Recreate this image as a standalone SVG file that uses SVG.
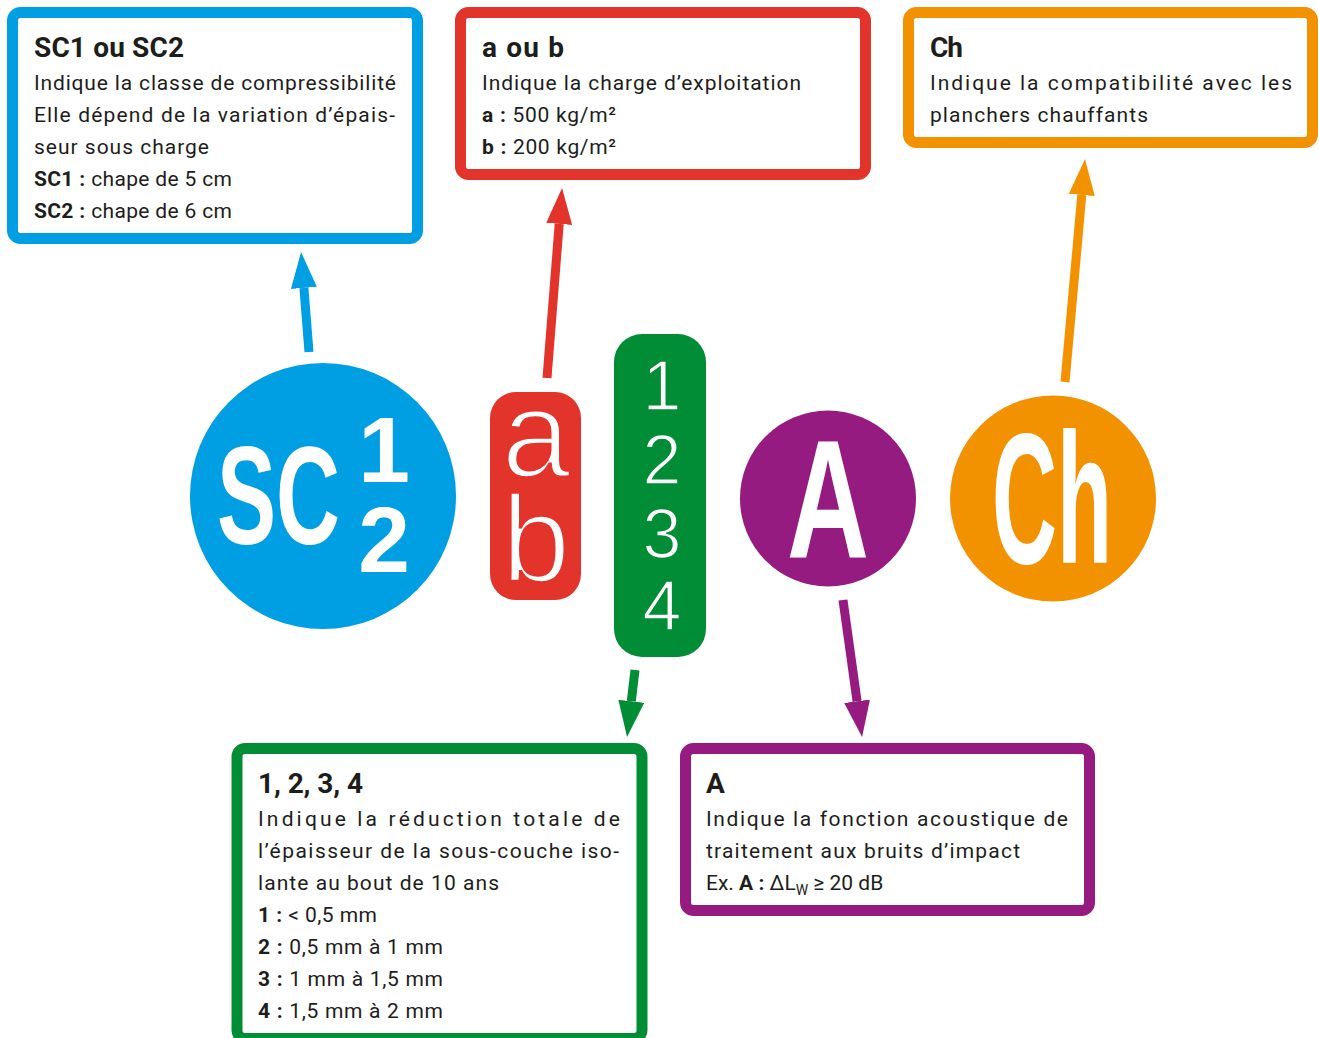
<svg xmlns="http://www.w3.org/2000/svg" width="1319" height="1038" viewBox="0 0 1319 1038">
<style>
.box{fill:#fff;stroke-width:11}
.t{font-family:Roboto,"Liberation Sans",sans-serif;fill:#1d1d1b;font-size:21px}
.h{font-family:Roboto,"Liberation Sans",sans-serif;fill:#1d1d1b;font-size:28px;font-weight:bold}
.b{font-weight:bold}
.big{font-family:"Liberation Sans",Arial,sans-serif;fill:#fff}
.c{stroke-width:9;fill:none}
</style>
<defs>
<marker id="mb" markerUnits="userSpaceOnUse" markerWidth="36" markerHeight="26" viewBox="0 0 36 26" refX="0" refY="13" orient="auto"><path d="M0,0L36,13L0,26z" fill="#009fe3"/></marker>
<marker id="mr" markerUnits="userSpaceOnUse" markerWidth="36" markerHeight="26" viewBox="0 0 36 26" refX="0" refY="13" orient="auto"><path d="M0,0L36,13L0,26z" fill="#e3342c"/></marker>
<marker id="mg" markerUnits="userSpaceOnUse" markerWidth="36" markerHeight="26" viewBox="0 0 36 26" refX="0" refY="13" orient="auto"><path d="M0,0L36,13L0,26z" fill="#008d36"/></marker>
<marker id="mp" markerUnits="userSpaceOnUse" markerWidth="36" markerHeight="26" viewBox="0 0 36 26" refX="0" refY="13" orient="auto"><path d="M0,0L36,13L0,26z" fill="#951b81"/></marker>
<marker id="mo" markerUnits="userSpaceOnUse" markerWidth="36" markerHeight="26" viewBox="0 0 36 26" refX="0" refY="13" orient="auto"><path d="M0,0L36,13L0,26z" fill="#f39200"/></marker>
</defs>

<g id="connectors">
<line class="c" x1="309" y1="352" x2="303.9" y2="287.9" stroke="#009fe3" marker-end="url(#mb)"/>
<line class="c" x1="547" y1="378" x2="559.2" y2="223.9" stroke="#e3342c" marker-end="url(#mr)"/>
<line class="c" x1="635" y1="670" x2="631.3" y2="701.3" stroke="#008d36" marker-end="url(#mg)"/>
<line class="c" x1="843" y1="600" x2="857.1" y2="701.3" stroke="#951b81" marker-end="url(#mp)"/>
<line class="c" x1="1065" y1="382" x2="1081.8" y2="194.9" stroke="#f39200" marker-end="url(#mo)"/>
</g>

<g id="box-sc">
<rect class="box" x="12.5" y="12.5" width="405" height="226" rx="8" stroke="#009fe3"/>
<text class="h" x="34" y="57" textLength="150">SC1 ou SC2</text>
<text class="t" x="34" y="90" textLength="362">Indique la classe de compressibilité</text>
<text class="t" x="34" y="122" textLength="361">Elle dépend de la variation d’épais-</text>
<text class="t" x="34" y="154" textLength="175">seur sous charge</text>
<text class="t" x="34" y="186" textLength="198"><tspan class="b">SC1 :</tspan> chape de 5 cm</text>
<text class="t" x="34" y="218" textLength="198"><tspan class="b">SC2 :</tspan> chape de 6 cm</text>
</g>

<g id="box-ab">
<rect class="box" x="460.5" y="12.5" width="405" height="162" rx="8" stroke="#e3342c"/>
<text class="h" x="482" y="57" textLength="82">a ou b</text>
<text class="t" x="482" y="90" textLength="319">Indique la charge d’exploitation</text>
<text class="t" x="482" y="122" textLength="134"><tspan class="b">a :</tspan> 500 kg/m²</text>
<text class="t" x="482" y="154" textLength="134"><tspan class="b">b :</tspan> 200 kg/m²</text>
</g>

<g id="box-ch">
<rect class="box" x="908.5" y="12.5" width="404" height="130" rx="8" stroke="#f39200"/>
<text class="h" x="930" y="57" textLength="33">Ch</text>
<text class="t" x="930" y="90" textLength="362">Indique la compatibilité avec les</text>
<text class="t" x="930" y="122" textLength="218">planchers chauffants</text>
</g>

<g id="box-1234">
<rect class="box" x="237" y="748.5" width="405" height="290" rx="8" stroke="#008d36"/>
<text class="h" x="258" y="793" textLength="105">1, 2, 3, 4</text>
<text class="t" x="258" y="826" textLength="362">Indique la réduction totale de</text>
<text class="t" x="258" y="858" textLength="361">l’épaisseur de la sous-couche iso-</text>
<text class="t" x="258" y="890" textLength="241">lante au bout de 10 ans</text>
<text class="t" x="258" y="922" textLength="119"><tspan class="b">1 :</tspan> &lt; 0,5 mm</text>
<text class="t" x="258" y="954" textLength="185"><tspan class="b">2 :</tspan> 0,5 mm à 1 mm</text>
<text class="t" x="258" y="986" textLength="185"><tspan class="b">3 :</tspan> 1 mm à 1,5 mm</text>
<text class="t" x="258" y="1018" textLength="185"><tspan class="b">4 :</tspan> 1,5 mm à 2 mm</text>
</g>

<g id="box-a">
<rect class="box" x="685.5" y="748.5" width="404" height="162" rx="8" stroke="#951b81"/>
<text class="h" x="706" y="793">A</text>
<text class="t" x="706" y="826" textLength="362">Indique la fonction acoustique de</text>
<text class="t" x="706" y="858" textLength="314">traitement aux bruits d’impact</text>
<text class="t" x="706" y="890">Ex. <tspan class="b">A :</tspan> ΔL<tspan font-size="14" dy="5">W</tspan><tspan dy="-5"> ≥ 20 dB</tspan></text>
</g>

<g id="node-sc">
<circle cx="323" cy="496" r="133" fill="#009fe3"/>
<text class="big" x="217" y="544" font-size="140" font-weight="bold" textLength="123" lengthAdjust="spacingAndGlyphs">SC</text>
<text class="big" font-size="93" font-weight="bold" text-anchor="middle"><tspan x="384" y="482">1</tspan><tspan x="384" y="572">2</tspan></text>
</g>

<g id="node-ab">
<rect x="490" y="392" width="91" height="208" rx="26" fill="#e3342c"/>
<text class="big" font-size="124" text-anchor="middle" stroke="#e3342c" stroke-width="3.5"><tspan x="536" y="477">a</tspan><tspan x="536" y="582">b</tspan></text>
</g>

<g id="node-1234">
<rect x="614" y="334" width="92" height="323" rx="28" fill="#008d36"/>
<text class="big" font-size="70" text-anchor="middle" stroke="#008d36" stroke-width="1.5"><tspan x="662" y="410">1</tspan><tspan x="662" y="484">2</tspan><tspan x="662" y="558">3</tspan><tspan x="662" y="630">4</tspan></text>
</g>

<g id="node-a">
<circle cx="828" cy="498.5" r="88" fill="#951b81"/>
<text class="big" x="787" y="558" font-size="169" font-weight="bold" textLength="82" lengthAdjust="spacingAndGlyphs">A</text>
</g>

<g id="node-ch">
<circle cx="1053" cy="498.5" r="103" fill="#f39200"/>
<text class="big" x="992" y="563" font-size="186" font-weight="bold" textLength="120" lengthAdjust="spacingAndGlyphs">Ch</text>
</g>
</svg>
